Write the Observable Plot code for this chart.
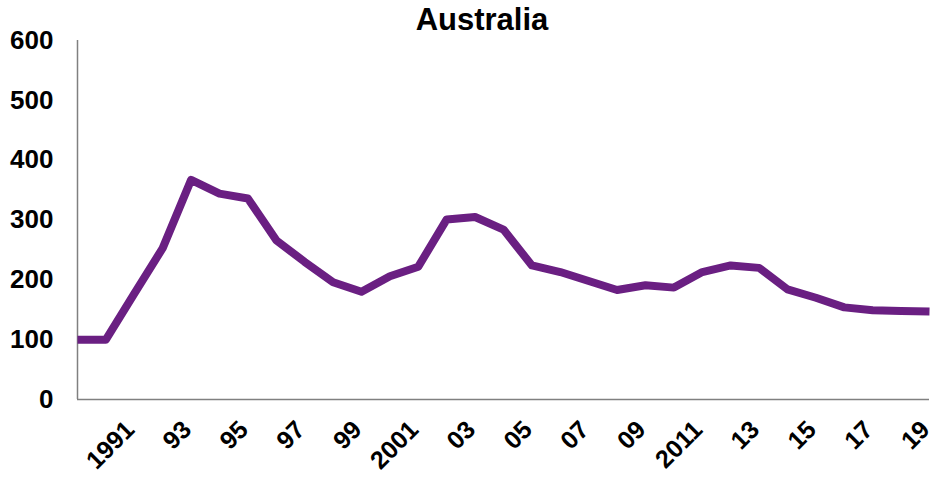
<!DOCTYPE html>
<html>
<head>
<meta charset="utf-8">
<script src="https://cdn.jsdelivr.net/npm/d3@7"></script>
<script src="https://cdn.jsdelivr.net/npm/@observablehq/plot@0.6"></script>
<style>
  html, body { margin: 0; padding: 0; background: #fff; }
  #wrap { position: relative; width: 933px; height: 478px; }
  #title { position: absolute; left: 31px; top: 0; width: 902px; text-align: center;
    font: bold 31px "Liberation Sans", Arial, sans-serif; line-height: 40px; color: #000; z-index: 2; }
</style>
</head>
<body>
<div id="wrap">
  <div id="title">Australia</div>
  <div id="chart"></div>
</div>
<script>
const title = "Australia";
const years = [1989,1990,1991,1992,1993,1994,1995,1996,1997,1998,1999,2000,2001,2002,2003,2004,2005,2006,2007,2008,2009,2010,2011,2012,2013,2014,2015,2016,2017,2018,2019];
const values = [100,100,177,253,367,344,336,266,230,196,180,206,222,301,305,284,224,213,198,183,191,187,213,224,220,184,170,154,149,148,147];
const xTickYears = [1991,1993,1995,1997,1999,2001,2003,2005,2007,2009,2011,2013,2015,2017,2019];
const xTickLabels = ["1991","93","95","97","99","2001","03","05","07","09","2011","13","15","17","19"];
const yTicks = [0,100,200,300,400,500,600];

const data = years.map((y, i) => ({year: y, value: values[i]}));
const xt = xTickYears.map((y, i) => ({year: y, label: xTickLabels[i]}));

const font = '"Liberation Sans", Arial, sans-serif';

const chart = Plot.plot({
  width: 933,
  height: 478,
  marginLeft: 77,
  marginRight: 4,
  marginTop: 40,
  marginBottom: 79,
  style: {fontFamily: font, background: "transparent", overflow: "visible"},
  x: {type: "linear", domain: [1989, 2019], axis: null},
  y: {domain: [0, 600], axis: null},
  marks: [
    Plot.ruleX([1989], {y1: 0, y2: 600, stroke: "#808080", strokeWidth: 1.5}),
    Plot.ruleY([0], {x1: 1989, x2: 2019, stroke: "#808080", strokeWidth: 1.5}),
    Plot.line(data, {x: "year", y: "value", stroke: "#6a1f82", strokeWidth: 8, strokeLinecap: "butt", strokeLinejoin: "round"}),
    Plot.text(yTicks, {x: 1989, y: d => d, text: d => String(d), dx: -24, textAnchor: "end", fontSize: 26, fontWeight: "bold", fill: "#000"}),
    Plot.text(xt, {x: "year", y: 0, text: "label", dy: 26, dx: -4, rotate: -45, textAnchor: "end", fontSize: 25, fontWeight: "bold", fill: "#000"})
  ]
});
document.getElementById("chart").appendChild(chart);
</script>
</body>
</html>
